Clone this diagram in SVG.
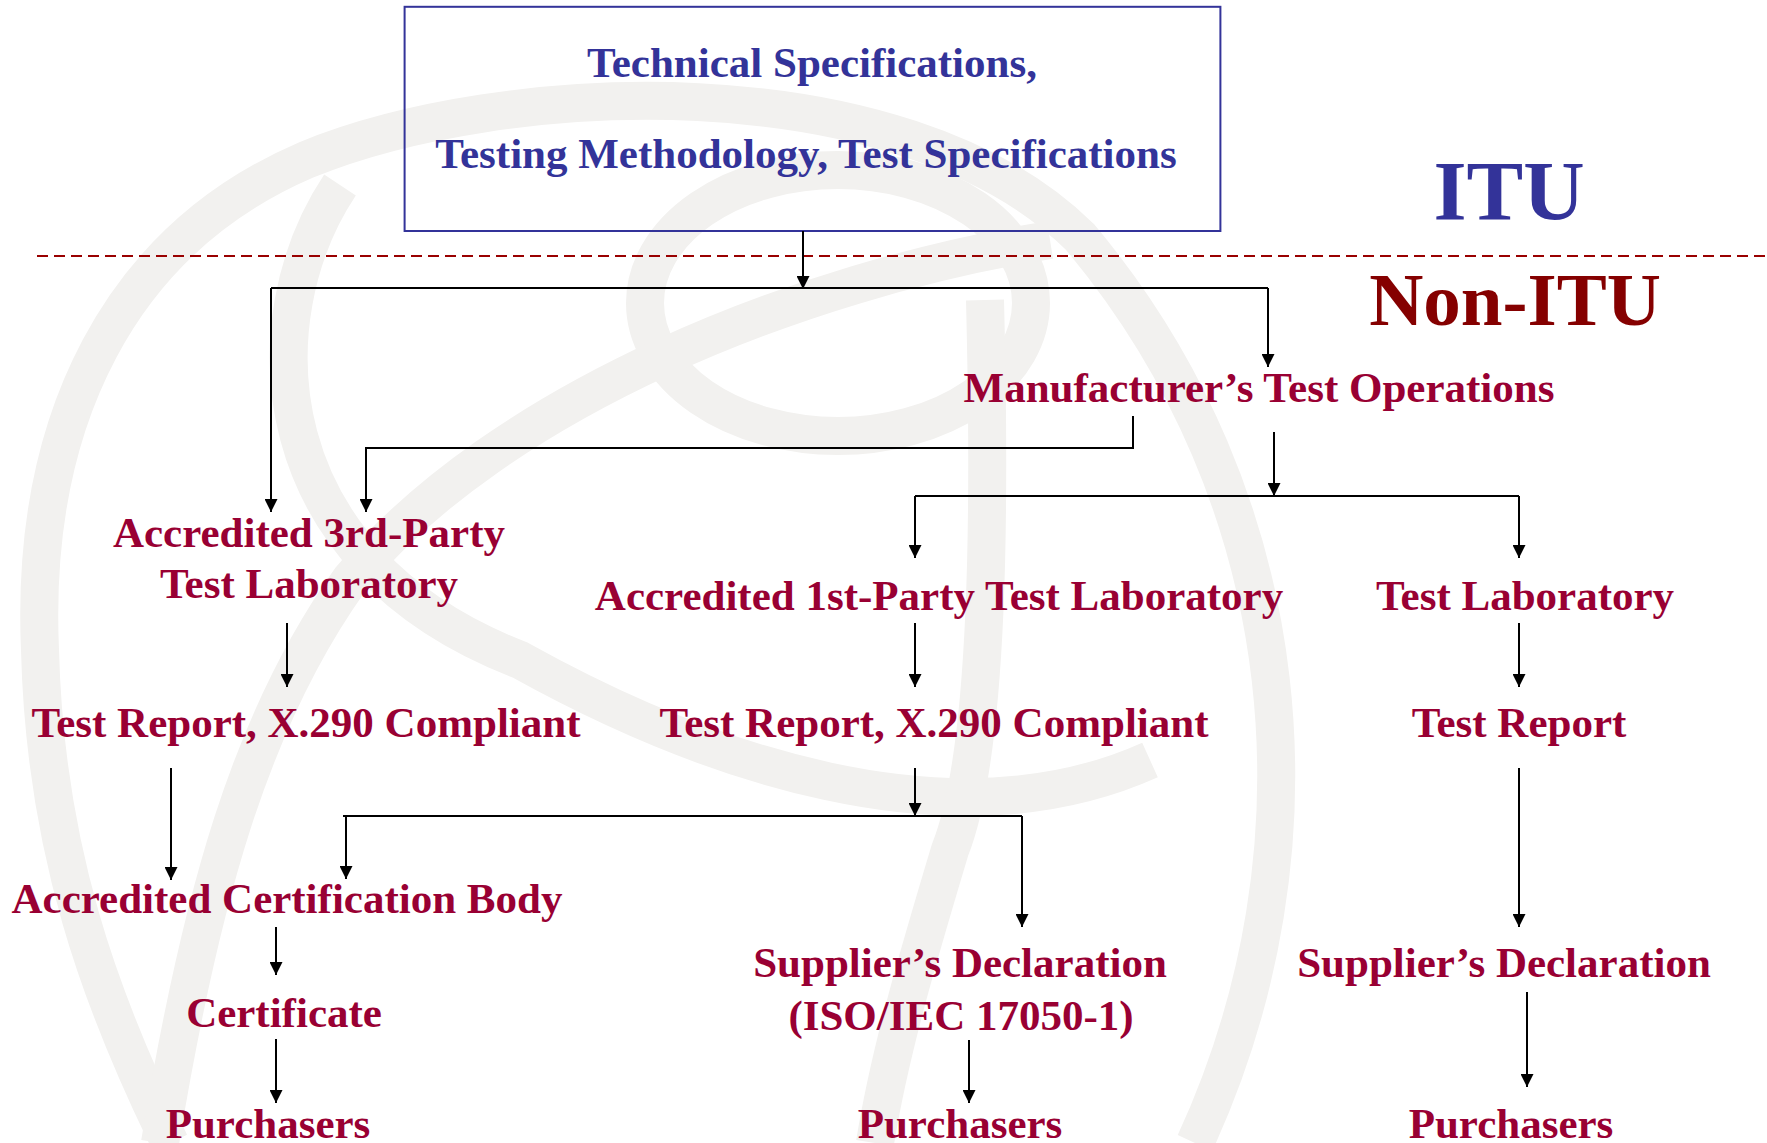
<svg xmlns="http://www.w3.org/2000/svg" width="1767" height="1143" viewBox="0 0 1767 1143">
<style>
.wm{fill:none;stroke:#f2f1ef;stroke-width:38}
.lbl{font-family:"Liberation Serif","Times New Roman",serif;font-weight:bold;font-size:43px;text-anchor:middle}
.red{fill:#990033}
.blue{fill:#333399}
.conn path{fill:none;stroke:#000;stroke-width:2}
</style>
<defs>
<marker id="ah" viewBox="0 0 10 10" refX="10" refY="5" markerUnits="userSpaceOnUse" markerWidth="16" markerHeight="13" orient="auto">
<path d="M0,0 L10,5 L0,10 z" fill="#000"/>
</marker>
</defs>
<rect width="1767" height="1143" fill="#fff"/>
<g id="watermark">
<path class="wm" d="M1195 1143 C1330 850 1300 500 1080 237 C900 60 500 80 306 160 C120 240 30 420 40 650 C45 850 100 1000 170 1143"/>
<ellipse class="wm" cx="838" cy="303" rx="193" ry="133"/>
<path class="wm" d="M1050 240 C800 280 500 400 350 580 C250 720 200 900 160 1143"/>
<path class="wm" d="M340 185 C250 320 260 560 520 660 C700 760 950 850 1150 760"/>
<path class="wm" d="M985 300 C990 500 990 750 950 850 C920 950 890 1050 875 1143"/>
</g>
<line x1="37" y1="256" x2="1767" y2="256" stroke="#990000" stroke-width="2" stroke-dasharray="11 6"/>
<g id="itu-box">
<rect x="404.6" y="6.8" width="815.8" height="224.2" fill="none" stroke="#333399" stroke-width="2"/>
<text class="lbl blue" x="812" y="77">Technical Specifications,</text>
<text class="lbl blue" x="806" y="168">Testing Methodology, Test Specifications</text>
</g>
<g id="itu-label"><text class="lbl blue" x="1509" y="220" style="font-size:85px">ITU</text></g>
<g id="nonitu-label"><text class="lbl" x="1515" y="325" fill="#850000" style="font-size:75px">Non-ITU</text></g>
<g id="manufacturer"><text class="lbl red" x="1259" y="402">Manufacturer’s Test Operations</text></g>
<g id="lab3rd"><text class="lbl red" x="309" y="547">Accredited 3rd-Party</text><text class="lbl red" x="309" y="598">Test Laboratory</text></g>
<g id="lab1st"><text class="lbl red" x="939" y="610">Accredited 1st-Party Test Laboratory</text></g>
<g id="lab"><text class="lbl red" x="1525" y="610">Test Laboratory</text></g>
<g id="report3rd"><text class="lbl red" x="306" y="737">Test Report, X.290 Compliant</text></g>
<g id="report1st"><text class="lbl red" x="934" y="737">Test Report, X.290 Compliant</text></g>
<g id="report"><text class="lbl red" x="1519" y="737">Test Report</text></g>
<g id="certbody"><text class="lbl red" x="287" y="913">Accredited Certification Body</text></g>
<g id="certificate"><text class="lbl red" x="284" y="1027">Certificate</text></g>
<g id="purchasers1"><text class="lbl red" x="268" y="1138">Purchasers</text></g>
<g id="sdoc1"><text class="lbl red" x="960" y="977">Supplier’s Declaration</text><text class="lbl red" x="961" y="1030">(ISO/IEC 17050-1)</text></g>
<g id="purchasers2"><text class="lbl red" x="960" y="1138">Purchasers</text></g>
<g id="sdoc2"><text class="lbl red" x="1504" y="977">Supplier’s Declaration</text></g>
<g id="purchasers3"><text class="lbl red" x="1511" y="1138">Purchasers</text></g>
<g id="connectors" class="conn">
<path d="M803 231 V289" marker-end="url(#ah)"/>
<path d="M271 288 H1268"/>
<path d="M271 288 V512" marker-end="url(#ah)"/>
<path d="M1268 288 V367" marker-end="url(#ah)"/>
<path d="M1133 416 V448 H366 V512" marker-end="url(#ah)"/>
<path d="M1274 432 V496" marker-end="url(#ah)"/>
<path d="M915 496 H1519"/>
<path d="M915 496 V558" marker-end="url(#ah)"/>
<path d="M1519 496 V558" marker-end="url(#ah)"/>
<path d="M287 623 V687" marker-end="url(#ah)"/>
<path d="M915 623 V687" marker-end="url(#ah)"/>
<path d="M1519 623 V687" marker-end="url(#ah)"/>
<path d="M171 768 V880" marker-end="url(#ah)"/>
<path d="M915 768 V816" marker-end="url(#ah)"/>
<path d="M343 816 H1022"/>
<path d="M346 816 V879" marker-end="url(#ah)"/>
<path d="M1022 816 V927" marker-end="url(#ah)"/>
<path d="M1519 768 V927" marker-end="url(#ah)"/>
<path d="M276 927 V975" marker-end="url(#ah)"/>
<path d="M276 1039 V1103" marker-end="url(#ah)"/>
<path d="M969 1040 V1103" marker-end="url(#ah)"/>
<path d="M1527 992 V1087" marker-end="url(#ah)"/>
</g>
</svg>
